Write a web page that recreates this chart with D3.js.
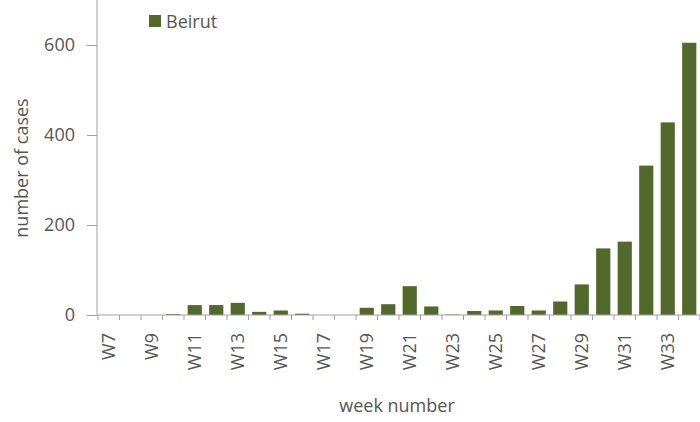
<!DOCTYPE html>
<html><head><meta charset="utf-8">
<script src="https://cdn.jsdelivr.net/npm/d3@7"></script>
<style>body{margin:0;background:#fff}svg{display:block}text{font-family:"Open Sans","Liberation Sans",sans-serif;fill:#555}</style>
</head><body>
<svg id="c" width="700" height="422"></svg>
<script>
const weeks = ["W7","W8","W9","W10","W11","W12","W13","W14","W15","W16","W17","W18","W19","W20","W21","W22","W23","W24","W25","W26","W27","W28","W29","W30","W31","W32","W33","W34"];
const cases = [0,0,0,2,22,22,27,7,10,3,0,0,16,24,64,19,1,9,10,20,10,30,68,148,163,332,428,605];
const yTicks = [0,200,400,600];
const seriesName = "Beirut";

const svg = d3.select("#c");
const m = {l:97, r:0, t:0, b:107};
const W = 700, H = 422;
const FS = "18px";
const x = d3.scaleBand().domain(weeks).range([m.l+1, W-m.r]).paddingInner(0.34).paddingOuter(0.17);
const y = d3.scaleLinear().domain([0,700]).range([H-m.b, m.t]);
const col = "#51692a", axisCol = "#a0a0a0";

svg.selectAll("rect.bar").data(weeks).join("rect").attr("class","bar")
  .attr("x", d=>x(d)).attr("width", x.bandwidth())
  .attr("y", (d,i)=>y(cases[i])).attr("height",(d,i)=>y(0)-y(cases[i]))
  .attr("fill", col);

// y axis
const ya = svg.append("g").attr("transform",`translate(${m.l},0)`)
  .call(d3.axisLeft(y).tickValues(yTicks).tickSize(10).tickPadding(12));
ya.select(".domain").attr("stroke",axisCol).attr("d",`M0,${y(0)}V${m.t}`);
ya.selectAll(".tick line").attr("stroke",axisCol);
ya.selectAll(".tick text").style("font-size",FS).attr("fill","#555");

// x axis
const xa = svg.append("g").attr("transform",`translate(0,${y(0)})`)
  .call(d3.axisBottom(x).tickFormat((d,i)=> i%2===0 ? d : "").tickSize(0).tickPadding(0));
xa.select(".domain").attr("stroke",axisCol).attr("d",`M${m.l},0H${W}`);
xa.selectAll(".tick text").attr("transform","rotate(-90)").attr("text-anchor","end")
  .attr("x",-18).attr("y",0).attr("dy","0.35em").style("font-size",FS).attr("fill","#555");
// small ticks at band boundaries
const bounds = weeks.map(w=>x(w)-x.step()*x.paddingInner()/2).concat([W]);
svg.append("g").selectAll("line").data(bounds).join("line")
  .attr("x1",d=>d).attr("x2",d=>d).attr("y1",y(0)).attr("y2",y(0)+5)
  .attr("stroke",axisCol);

// axis titles
svg.append("text").attr("transform",`translate(28,168) rotate(-90)`)
  .attr("text-anchor","middle").style("font-size",FS).text("number of cases");
svg.append("text").attr("x",397).attr("y",412).attr("text-anchor","middle")
  .style("font-size",FS).text("week number");

// legend
svg.append("rect").attr("x",149).attr("y",15).attr("width",12).attr("height",12).attr("fill",col);
svg.append("text").attr("x",166).attr("y",28).style("font-size",FS).text(seriesName);
</script>
</body></html>
